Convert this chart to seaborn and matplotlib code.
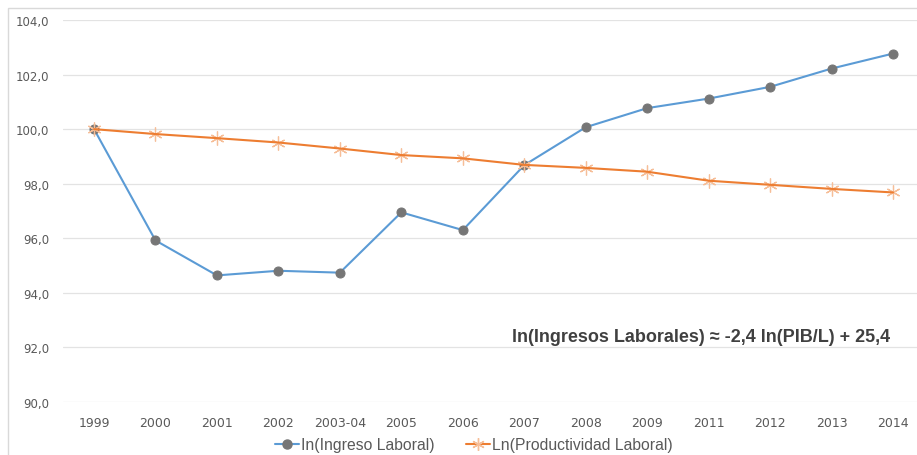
import matplotlib
matplotlib.use("Agg")
import matplotlib.pyplot as plt
import seaborn as sns
import pandas as pd
import numpy as np
from matplotlib.patches import Rectangle
from matplotlib.lines import Line2D
from matplotlib.ticker import FuncFormatter

categories = ["1999", "2000", "2001", "2002", "2003-04", "2005", "2006", "2007",
              "2008", "2009", "2011", "2012", "2013", "2014"]
ingreso = [100.0, 95.92, 94.64, 94.81, 94.74, 96.95, 96.3, 98.68,
           100.07, 100.77, 101.12, 101.55, 102.22, 102.77]
productividad = [100.0, 99.82, 99.67, 99.51, 99.29, 99.05, 98.93, 98.69,
                 98.58, 98.44, 98.11, 97.96, 97.81, 97.68]
label_ing = "In(Ingreso Laboral)"
label_prod = "Ln(Productividad Laboral)"
annotation = "ln(Ingresos Laborales) \u2248 -2,4 ln(PIB/L) + 25,4"

sns.set_theme(style="white")
plt.rcParams['font.family'] = ['DejaVu Sans']

W, H = 917, 456
fig = plt.figure(figsize=(W / 100, H / 100), dpi=100)
ax = fig.add_axes([63 / W, (H - 403) / H, (W - 63) / W, (403 - 21) / H])

pos = np.arange(len(categories))
df = pd.DataFrame({"pos": pos, "ing": ingreso, "prod": productividad})

blue = "#5B9BD5"
orange = "#ED7D31"
grey = "#767676"
star = "#F6BE98"

sns.lineplot(data=df, x="pos", y="ing", ax=ax, color=blue, linewidth=1.5,
             marker="o", markersize=6.5, markerfacecolor=grey,
             markeredgecolor=grey, zorder=3)
sns.lineplot(data=df, x="pos", y="prod", ax=ax, color=orange, linewidth=1.5,
             zorder=4)
ax.plot(pos, productividad, linestyle="none", marker=(6, 2, 0), markersize=10,
        markeredgewidth=0.9, markeredgecolor=star, color=star,
        zorder=3.5)

ax.set_xlim(-0.505, 13.39)
ax.set_ylim(90, 104)
ax.set_yticks(np.arange(90, 104.1, 2))
ax.yaxis.set_major_formatter(FuncFormatter(lambda v, p: f"{v:.1f}".replace(".", ",")))
ax.set_xticks(pos)
ax.set_xticklabels(categories)
ax.set_xlabel("")
ax.set_ylabel("")
ax.grid(axis="y", color="#E3E3E3", linewidth=0.9)
ax.set_axisbelow(True)
for s in ax.spines.values():
    s.set_visible(False)
ax.tick_params(axis="both", length=0, colors="#595959")
ax.tick_params(axis="x", pad=10, labelsize=9)
ax.tick_params(axis="y", pad=9.8, labelsize=8.5)

ax.text(890 / W, (H - 337.5) / H, annotation, transform=fig.transFigure,
        ha="right", va="center", fontsize=13.0, fontweight="bold",
        color="#404040", family=["Liberation Sans", "DejaVu Sans"])

handles = [
    Line2D([], [], color=blue, linewidth=1.5, marker="o", markersize=6.5,
           markerfacecolor=grey, markeredgecolor=grey),
    Line2D([], [], color=orange, linewidth=1.5, marker=(6, 2, 0), markersize=9,
           markeredgecolor=star),
]
fig.legend(handles, [label_ing, label_prod], loc="center",
           bbox_to_anchor=(474 / W, (H - 446) / H), ncol=2, frameon=False,
           prop={"family": ["Liberation Sans", "DejaVu Sans"], "size": 11.3},
           labelcolor="#595959", handlelength=1.5,
           handletextpad=0.15, columnspacing=2.0)

fig.patches.append(Rectangle((8 / W, -0.1), 1.2, (H - 9) / H + 0.1,
                             transform=fig.transFigure, fill=False,
                             edgecolor="#D9D9D9", linewidth=1.0))

fig.savefig("out.png", dpi=100)
